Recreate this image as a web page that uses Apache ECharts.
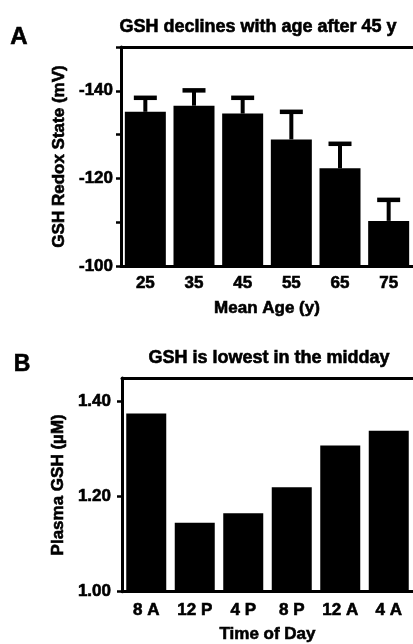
<!DOCTYPE html>
<html>
<head>
<meta charset="utf-8">
<style>
  html, body { margin: 0; padding: 0; background: #fff; }
  #chart { width: 413px; height: 644px; }
</style>
<script src="https://cdn.jsdelivr.net/npm/echarts@6.0.0/dist/echarts.min.js"></script>
</head>
<body>
<div id="chart"></div>
<script>
// ---- Panel A data ----
const agesA = ['25', '35', '45', '55', '65', '75'];
const redoxMean = [-135.2, -136.6, -134.8, -128.9, -122.3, -110.3];
const redoxSem = [3.2, 3.5, 3.6, 6.3, 5.6, 4.8];
const tickValuesA = [-150, -140, -130, -120, -110, -100];
const labelValuesA = [-140, -120, -100];

// ---- Panel B data ----
const timesB = ['8 A', '12 P', '4 P', '8 P', '12 A', '4 A'];
const plasmaGSH = [1.375, 1.145, 1.165, 1.22, 1.308, 1.339];
const tickValuesB = [1.0, 1.2, 1.4];

const FONT = 'Liberation Sans, Arial, sans-serif';
const chart = echarts.init(document.getElementById('chart'), null, { renderer: 'canvas' });

const axisLineStyle = { color: '#000', width: 3 };
const heavy = { textBorderColor: '#000', textBorderWidth: 0.6 };
const labelStyle = Object.assign({ color: '#000', fontSize: 17, fontWeight: 'bold', fontFamily: FONT }, heavy);
const nameStyle = Object.assign({ color: '#000', fontSize: 17, fontWeight: 'bold', fontFamily: FONT }, heavy);
const gText = (x, y, text, size) => ({
  type: 'text', x: x, y: y,
  style: { text: text, font: 'bold ' + size + 'px ' + FONT, fill: '#000', stroke: '#000', lineWidth: 0.6, textAlign: 'center', textVerticalAlign: 'middle' }
});

const errData = agesA.map((a, i) => [i, redoxMean[i], redoxMean[i] - redoxSem[i]]);

const option = {
  animation: false,
  backgroundColor: '#fff',
  grid: [
    { left: 121, right: -3, top: 47, height: 219 },
    { left: 122, right: -3, top: 378, height: 219 }
  ],
  graphic: [
    gText(19, 37, 'A', 24),
    gText(258, 27, 'GSH declines with age after 45 y', 18),
    gText(22, 365, 'B', 23),
    gText(269, 358, 'GSH is lowest in the midday', 18)
  ],
  xAxis: [
    {
      type: 'category', gridIndex: 0, data: agesA, position: 'bottom',
      axisLine: { show: true, onZero: false, lineStyle: axisLineStyle },
      axisTick: { show: false },
      axisLabel: Object.assign({ margin: 9 }, labelStyle),
      name: 'Mean Age (y)', nameLocation: 'middle', nameGap: 34, nameTextStyle: nameStyle
    },
    {
      type: 'category', gridIndex: 0, data: agesA, position: 'top',
      axisLine: { show: true, onZero: false, lineStyle: axisLineStyle },
      axisTick: { show: false }, axisLabel: { show: false }
    },
    {
      type: 'category', gridIndex: 1, data: timesB, position: 'bottom',
      axisLine: { show: true, onZero: false, lineStyle: axisLineStyle },
      axisTick: { show: false },
      axisLabel: Object.assign({ margin: 10 }, labelStyle),
      name: 'Time of Day', nameLocation: 'middle', nameGap: 34, nameTextStyle: nameStyle
    },
    {
      type: 'category', gridIndex: 1, data: timesB, position: 'top',
      axisLine: { show: true, onZero: false, lineStyle: axisLineStyle },
      axisTick: { show: false }, axisLabel: { show: false }
    }
  ],
  yAxis: [
    {
      type: 'value', gridIndex: 0, inverse: true, min: -150, max: -100,
      axisLine: { show: true, onZero: false, lineStyle: axisLineStyle },
      axisTick: { show: true, customValues: tickValuesA, length: 5, lineStyle: { color: '#000', width: 2.5 } },
      axisLabel: Object.assign({ customValues: labelValuesA, margin: 8 }, labelStyle),
      splitLine: { show: false },
      name: 'GSH Redox State (mV)', nameLocation: 'middle', nameGap: 47, nameTextStyle: nameStyle
    },
    {
      type: 'value', gridIndex: 1, min: 1.0, max: 1.45,
      axisLine: { show: true, onZero: false, lineStyle: axisLineStyle },
      axisTick: { show: true, customValues: tickValuesB, length: 5, lineStyle: { color: '#000', width: 2.5 } },
      axisLabel: Object.assign({ customValues: tickValuesB, margin: 11, formatter: v => Number(v).toFixed(2) }, labelStyle),
      splitLine: { show: false },
      name: 'Plasma GSH (µM)', nameLocation: 'middle', nameGap: 47, nameTextStyle: nameStyle
    }
  ],
  series: [
    {
      type: 'bar', xAxisIndex: 0, yAxisIndex: 0, data: redoxMean,
      barWidth: 41, itemStyle: { color: '#000' }, clip: true, z: 2
    },
    {
      type: 'custom', xAxisIndex: 0, yAxisIndex: 0, data: errData, z: 3,
      encode: { x: 0, y: [1, 2] },
      renderItem: function (params, api) {
        const p0 = api.coord([api.value(0), api.value(1)]);
        const p1 = api.coord([api.value(0), api.value(2)]);
        const half = 11.5;
        return {
          type: 'group',
          children: [
            { type: 'line', shape: { x1: p0[0], y1: p0[1], x2: p1[0], y2: p1[1] }, style: { stroke: '#000', lineWidth: 4 } },
            { type: 'line', shape: { x1: p1[0] - half, y1: p1[1], x2: p1[0] + half, y2: p1[1] }, style: { stroke: '#000', lineWidth: 4.5 } }
          ]
        };
      }
    },
    {
      type: 'bar', xAxisIndex: 2, yAxisIndex: 1, data: plasmaGSH,
      barWidth: 40, itemStyle: { color: '#000' }, clip: true, z: 2
    }
  ]
};

chart.setOption(option);
</script>
</body>
</html>
